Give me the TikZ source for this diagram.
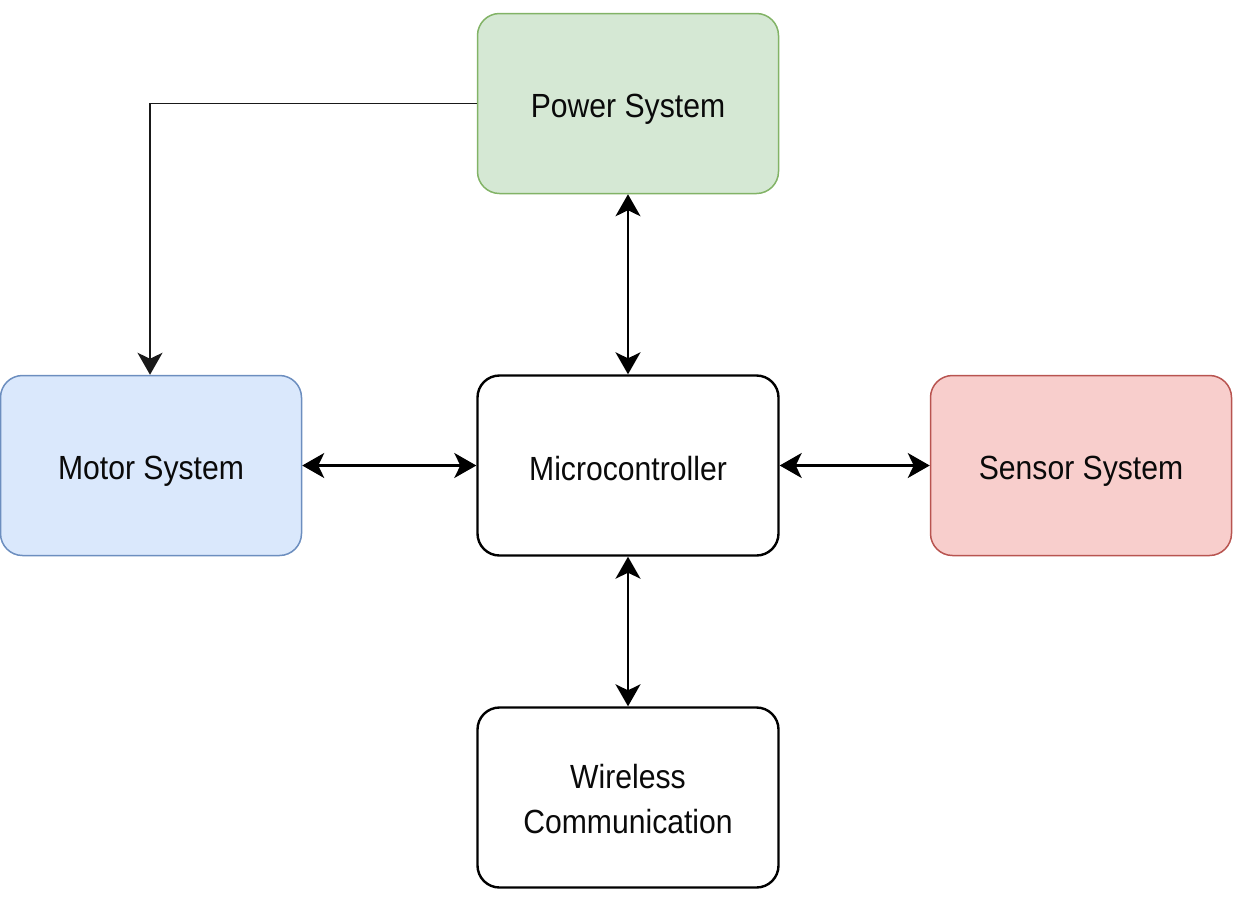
\documentclass[tikz,border=0pt]{standalone}
\usepackage{fontspec}
\setmainfont{Liberation Sans}[FakeStretch=0.9]
\usetikzlibrary{arrows.meta}
\definecolor{pwrfill}{HTML}{D5E8D4}
\definecolor{pwrline}{HTML}{82B366}
\definecolor{motfill}{HTML}{DAE8FC}
\definecolor{motline}{HTML}{6C8EBF}
\definecolor{senfill}{HTML}{F8CECC}
\definecolor{senline}{HTML}{B85450}
\definecolor{txt}{HTML}{0A0A0A}
\tikzset{
  blockbox/.style={rectangle, rounded corners=22pt, minimum width=301pt, minimum height=180pt, inner sep=0pt},
  plainbox/.style={blockbox, draw=black, line width=2.4pt, fill=white},
  lbl/.style={align=center, font=\fontsize{33.5}{45}\selectfont, text=txt, inner sep=0pt},
  conn/.style={line width=2.1pt, draw=black, {Stealth[length=22pt,width=25pt,inset=6pt]}-{Stealth[length=22pt,width=25pt,inset=6pt]}},
  feed/.style={line width=1.9pt, draw=black!90, -{Stealth[length=22pt,width=25pt,inset=6pt]}}
}
\begin{document}
\begin{tikzpicture}[x=1pt,y=-1pt]
\useasboundingbox (0,0) rectangle (1240,898);
\node[blockbox, draw=pwrline, line width=1.5pt, fill=pwrfill] (pwr) at (628,103.5) {};
\node[blockbox, draw=motline, line width=1.5pt, fill=motfill] (mot) at (151,465.5) {};
\node[plainbox] (mcu) at (628,465.5) {};
\node[blockbox, draw=senline, line width=1.5pt, fill=senfill] (sen) at (1081,465.5) {};
\node[plainbox] (wls) at (628,797.5) {};
\node[lbl] (pwr-t) at ([yshift=-6pt]pwr.center) {Power System};
\node[lbl] (mot-t) at ([yshift=-6pt]mot.center) {Motor System};
\node[lbl] (mcu-t) at ([yshift=-3pt]mcu.center) {Microcontroller};
\node[lbl] (sen-t) at ([yshift=-6pt]sen.center) {Sensor System};
\node[lbl] (wls-t) at ([yshift=-2pt]wls.center) {Wireless\\Communication};
\draw[feed] (pwr.west) -- (150,103.5) -- (mot.north -| 150,0);
\draw[conn] (pwr.south) -- (mcu.north);
\draw[conn] (mot.east) -- (mcu.west);
\draw[conn] (mcu.east) -- (sen.west);
\draw[conn] (mcu.south) -- (wls.north);
\end{tikzpicture}
\end{document}
